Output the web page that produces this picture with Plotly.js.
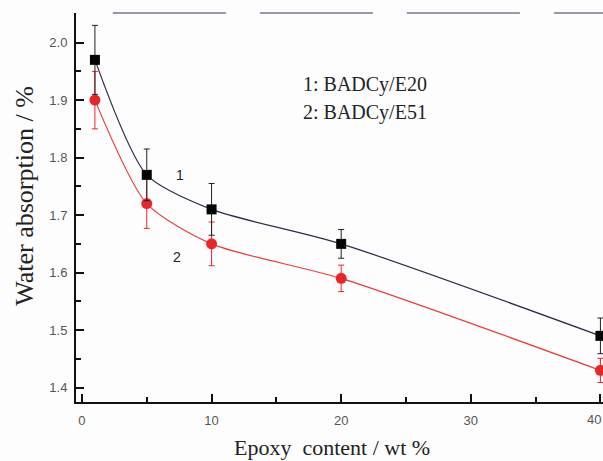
<!DOCTYPE html>
<html>
<head>
<meta charset="utf-8">
<script src="https://cdn.plot.ly/plotly-3.0.1.min.js"></script>
<style>html,body{margin:0;padding:0;background:#fff;}#chart{width:603px;height:461px;}</style>
</head>
<body>
<div id="chart"></div>
<script>
// Data
const epoxyContent = [1, 5, 10, 20, 40];
const absorptionE20 = [1.97, 1.77, 1.71, 1.65, 1.49];
const errorE20 = [0.06, 0.045, 0.045, 0.025, 0.031];
const absorptionE51 = [1.90, 1.72, 1.65, 1.59, 1.43];
const errorE51 = [0.05, 0.043, 0.038, 0.023, 0.021];
const seriesNames = ["1: BADCy/E20", "2: BADCy/E51"];
const curveLabels = ["1", "2"];
const xTicks = [0, 10, 20, 30];
const xEdgeTick = 40;
const yTicks = [1.4, 1.5, 1.6, 1.7, 1.8, 1.9, 2.0];

const serif = "Liberation Serif, Times New Roman, serif";
const sans = "Liberation Sans, Arial, sans-serif";

const traces = [
  {
    x: epoxyContent, y: absorptionE20, type: "scatter", mode: "lines",
    line: {shape: "spline", smoothing: 0.7, color: "#2e2a48", width: 1.2},
    hoverinfo: "skip", showlegend: false
  },
  {
    x: epoxyContent, y: absorptionE51, type: "scatter", mode: "lines",
    line: {shape: "spline", smoothing: 0.7, color: "#ee3b3b", width: 1.2},
    hoverinfo: "skip", showlegend: false
  },
  {
    x: epoxyContent, y: absorptionE51, type: "scatter", mode: "markers",
    name: seriesNames[1],
    marker: {symbol: "circle", size: 11, color: "#e8262a"},
    error_y: {type: "data", array: errorE51, visible: true, color: "#e8262a", thickness: 1, width: 3},
    showlegend: false
  },
  {
    x: epoxyContent, y: absorptionE20, type: "scatter", mode: "markers",
    name: seriesNames[0],
    marker: {symbol: "square", size: 10, color: "#050505"},
    error_y: {type: "data", array: errorE20, visible: true, color: "#222", thickness: 1, width: 3},
    showlegend: false
  }
];

const layout = {
  width: 603, height: 461,
  margin: {l: 76, r: 0, t: 13, b: 59},
  paper_bgcolor: "#fdfdfd", plot_bgcolor: "#fdfdfd",
  showlegend: false,
  xaxis: {
    range: [-0.46, 40.2],
    tickvals: xTicks.concat([xEdgeTick]), ticktext: xTicks.map(String).concat([""]),
    ticks: "inside", ticklen: 8, tickwidth: 2, tickcolor: "#111",
    minor: {dtick: 5, ticks: "inside", ticklen: 5, tickwidth: 2, tickcolor: "#111", showgrid: false},
    showline: true, linecolor: "#111", linewidth: 2,
    showgrid: false, zeroline: false,
    tickfont: {family: sans, size: 13, color: "#555"},
    ticklabelstandoff: 5
  },
  yaxis: {
    range: [1.375, 2.0515],
    tickvals: yTicks, ticktext: yTicks.map(v => v.toFixed(1)),
    ticks: "inside", ticklen: 8, tickwidth: 2, tickcolor: "#111",
    minor: {dtick: 0.05, ticks: "inside", ticklen: 5, tickwidth: 2, tickcolor: "#111", showgrid: false},
    showline: true, linecolor: "#111", linewidth: 2,
    showgrid: false, zeroline: false,
    tickfont: {family: sans, size: 13, color: "#555"},
    ticklabelstandoff: 4
  },
  shapes: [
    {type: "line", xref: "paper", yref: "paper", x0: 0.07, x1: 1, y0: 1, y1: 1,
     line: {color: "#6a6f8a", width: 2, dash: "113px,34px"}, opacity: 0.7}
  ],
  annotations: [
    {xref: "paper", yref: "paper", x: -0.097, y: 0.53, xanchor: "center", yanchor: "middle", textangle: -90,
     text: "Water absorption / %", showarrow: false, font: {family: serif, size: 26, color: "#222"}},
    {xref: "paper", yref: "paper", x: 0.485, y: -0.116, xanchor: "center", yanchor: "middle",
     text: "Epoxy  content / wt %", showarrow: false, font: {family: serif, size: 22, color: "#222"}},
    {xref: "paper", yref: "paper", x: 0.427, y: 0.815, xanchor: "left", yanchor: "middle",
     text: seriesNames[0], showarrow: false, font: {family: serif, size: 20, color: "#222"}},
    {xref: "paper", yref: "paper", x: 0.427, y: 0.745, xanchor: "left", yanchor: "middle",
     text: seriesNames[1], showarrow: false, font: {family: serif, size: 20, color: "#222"}},
    {x: 7.6, y: 1.77, text: curveLabels[0], showarrow: false, font: {family: sans, size: 14, color: "#222"}},
    {x: 7.3, y: 1.628, text: curveLabels[1], showarrow: false, font: {family: sans, size: 14, color: "#222"}},
    {x: xEdgeTick, xref: "x", yref: "paper", y: 0, yshift: -17, xshift: 3, xanchor: "right", yanchor: "middle",
     text: String(xEdgeTick), showarrow: false, font: {family: sans, size: 13, color: "#555"}}
  ]
};

Plotly.newPlot("chart", traces, layout, {displayModeBar: false, staticPlot: true});
</script>
</body>
</html>
